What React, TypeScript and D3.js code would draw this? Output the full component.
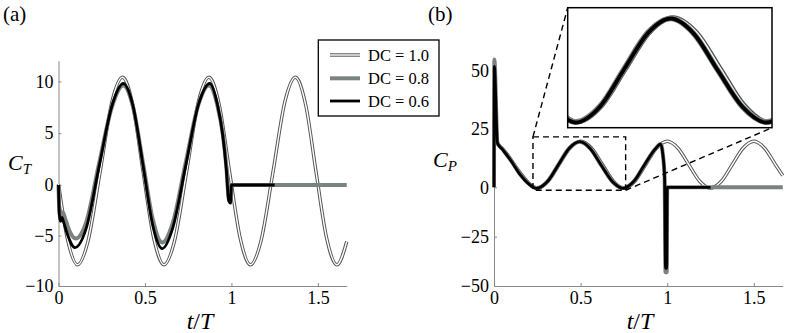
import React, { useEffect, useRef } from 'react'
import * as d3 from 'd3'

// panel (a): thrust coefficient C_T against t/T
const ctT10 = [0, 0.05, 0.11, 0.17, 0.24, 0.31, 0.37, 0.43, 0.49, 0.55, 0.61, 0.67, 0.74, 0.81, 0.87, 0.93, 0.99, 1.05, 1.11, 1.17, 1.24, 1.31, 1.37, 1.43, 1.49, 1.55, 1.61, 1.667]
const ctV10 = [0.1, -5.2, -7.9, -5.6, 1.2, 8.1, 10.4, 7.7, 1.2, -5.2, -7.9, -5.6, 1.2, 8.1, 10.4, 7.7, 1.2, -5.2, -7.9, -5.6, 1.2, 8.1, 10.4, 7.7, 1.2, -5.2, -7.9, -5.6]
const ctT08 = [0, 0.006, 0.015, 0.025, 0.04, 0.06, 0.1, 0.16, 0.235, 0.31, 0.375, 0.43, 0.49, 0.545, 0.6, 0.66, 0.735, 0.81, 0.87, 0.92, 0.95, 0.97, 0.985, 0.995, 1.0, 1.667]
const ctV08 = [0, -2.8, -3.0, -2.7, -3.4, -4.4, -5.3, -3.7, 2.1, 7.6, 9.6, 7.6, 2.0, -3.4, -5.7, -3.8, 2.1, 7.8, 9.6, 7.6, 4.9, 1.9, -1.4, -1.6, 0, 0]
const ctT06 = [0, 0.005, 0.012, 0.02, 0.03, 0.05, 0.095, 0.16, 0.235, 0.31, 0.375, 0.43, 0.49, 0.545, 0.6, 0.66, 0.735, 0.81, 0.875, 0.92, 0.95, 0.97, 0.985, 0.995, 1.0, 1.25]
const ctV06 = [0, -3.0, -3.6, -3.2, -3.7, -4.8, -6.2, -4.3, 1.8, 7.7, 9.8, 7.7, 1.8, -4.0, -6.3, -4.3, 1.8, 7.8, 9.8, 7.7, 4.8, 1.6, -1.6, -1.8, 0, 0]

// panel (b): power coefficient C_P against t/T
const cpT10 = [0, 0.03, 0.07, 0.12, 0.17, 0.21, 0.25, 0.3125, 0.375, 0.4375, 0.5, 0.5625, 0.625, 0.6875, 0.75, 0.8125, 0.875, 0.9375, 1.0, 1.0625, 1.125, 1.1875, 1.25, 1.3125, 1.375, 1.4375, 1.5, 1.5625, 1.625, 1.667]
const cpV10 = [19.5, 18.0, 14.8, 9.5, 4.5, 1.2, -0.4, 2.6, 9.7, 16.8, 19.8, 16.9, 9.9, 2.8, -0.4, 2.6, 9.7, 16.8, 19.8, 16.8, 9.7, 2.6, -0.4, 2.6, 9.7, 16.8, 19.8, 16.8, 9.7, 5.0]
const cpT08 = [0, 0.002, 0.02, 0.05, 0.1, 0.15, 0.2, 0.245, 0.31, 0.372, 0.435, 0.495, 0.555, 0.618, 0.683, 0.745, 0.81, 0.87, 0.93, 0.962, 0.975, 0.985, 0.99, 0.997, 1.0, 1.667]
const cpV08 = [0, 55, 19.2, 16.3, 11.3, 5.7, 1.6, -0.4, 2.7, 9.8, 16.9, 19.6, 16.7, 9.6, 2.5, -0.4, 2.8, 9.8, 16.4, 18.6, 14, 4, -43, -43, 0, 0]
const cpT06 = [0, 0.002, 0.02, 0.05, 0.1, 0.15, 0.2, 0.245, 0.31, 0.372, 0.435, 0.495, 0.555, 0.618, 0.683, 0.745, 0.81, 0.87, 0.93, 0.962, 0.975, 0.985, 0.99, 0.997, 1.0, 1.25]
const cpV06 = [0, 52, 19.0, 16.2, 11.2, 5.6, 1.5, -0.5, 2.6, 9.7, 16.8, 19.6, 16.7, 9.6, 2.5, -0.5, 2.8, 9.8, 16.4, 18.6, 14, 4, -41, -41, 0, 0]

const xTicks = [0, 0.5, 1, 1.5]
const ctTicks = [-10, -5, 0, 5, 10]
const cpTicks = [-50, -25, 0, 25, 50]
const legendLabels = ['DC = 1.0', 'DC = 0.8', 'DC = 0.6']
const zoomT = [0.225, 0.76]
const zoomV = [-1.5, 21.7]

const serif = 'Liberation Serif, DejaVu Serif, serif'
const grey = '#7b8282'
const edge = '#555'
const axisGrey = '#8a8a8a'

const pts = (t: number[], v: number[]) => t.map((d, i) => ({ t: d, v: v[i] }))

const drawSeries = (g: any, x: any, y: any, sets: any, k = 1) => {
  const line = d3.line<any>().x(d => x(d.t)).y(d => y(d.v)).curve(d3.curveMonotoneX)
  const add = (data: any, color: string, w: number) =>
    g.append('path').datum(data).attr('d', line).attr('fill', 'none')
      .attr('stroke', color).attr('stroke-width', w).attr('stroke-linejoin', 'round')
  add(sets[0], edge, 3.4 * k)
  add(sets[0], '#fff', 1.4 * k)
  add(sets[1], grey, 4 * k)
  add(sets[2], '#000', 2.8 * k)
}

const drawAxes = (svg: any, x: any, y: any, yTicks: number[]) => {
  const gx = svg.append('g')
    .attr('transform', `translate(0,${y.range()[0]})`)
    .call(d3.axisBottom(x).tickValues(xTicks).tickSizeInner(-3).tickSizeOuter(0).tickPadding(5).tickFormat(d => String(d)))
  const gy = svg.append('g')
    .attr('transform', `translate(${x.range()[0]},0)`)
    .call(d3.axisLeft(y).tickValues(yTicks).tickSizeInner(-3).tickSizeOuter(0).tickPadding(5).tickFormat(d3.format('')))
  for (const g of [gx, gy]) {
    g.attr('font-family', null).attr('font-size', null)
    g.selectAll('path, line').attr('stroke', axisGrey)
    g.selectAll('text').style('font-family', serif).style('font-size', '18px').attr('fill', '#000')
  }
}

const axisTitle = (svg: any, cx: number, cy: number, sub: string, side: boolean) => {
  const t = svg.append('text').style('font-family', serif).attr('fill', '#000')
  if (side) {
    t.attr('x', cx).attr('y', cy).style('font-size', '22px')
    t.append('tspan').style('font-style', 'italic').text('C')
    t.append('tspan').style('font-style', 'italic').style('font-size', '15px').attr('dy', 4).text(sub)
  } else {
    t.attr('x', cx).attr('y', cy).attr('text-anchor', 'middle').style('font-size', '24px')
    t.append('tspan').style('font-style', 'italic').text('t')
    t.append('tspan').text('/')
    t.append('tspan').style('font-style', 'italic').text('T')
  }
}

const draw = (svg: any) => {
  // panel (a)
  const xa = d3.scaleLinear().domain([0, 5 / 3]).range([58.5, 346.7])
  const ya = d3.scaleLinear().domain([-10, 0, 12]).range([286, 185, 60.7])
  drawAxes(svg, xa, ya, ctTicks)
  drawSeries(svg.append('g'), xa, ya, [pts(ctT10, ctV10), pts(ctT08, ctV08), pts(ctT06, ctV06)])
  axisTitle(svg, 8, 170, 'T', true)
  axisTitle(svg, 200, 329, '', false)
  svg.append('text').attr('x', 3).attr('y', 21).style('font-family', serif).style('font-size', '21px').text('(a)')

  // legend
  const lg = svg.append('g')
  lg.append('rect').attr('x', 318.3).attr('y', 40).attr('width', 120.7).attr('height', 76)
    .attr('fill', '#fff').attr('stroke', '#000').attr('stroke-width', 1.3)
  const rowY = [55, 78.3, 101]
  const sample = (i: number, color: string, w: number) =>
    lg.append('line').attr('x1', 330).attr('x2', 360).attr('y1', rowY[i]).attr('y2', rowY[i])
      .attr('stroke', color).attr('stroke-width', w)
  sample(0, edge, 3.4); sample(0, '#fff', 1.4); sample(1, grey, 4); sample(2, '#000', 2.8)
  legendLabels.forEach((s, i) => {
    lg.append('text').attr('x', 368).attr('y', rowY[i]).attr('dy', '0.35em')
      .style('font-family', serif).style('font-size', '16.5px').text(s)
  })

  // panel (b)
  const xb = d3.scaleLinear().domain([0, 5 / 3]).range([494, 782.7])
  const yb = d3.scaleLinear().domain([-50, 0, 55]).range([286, 187.3, 59.4])
  drawAxes(svg, xb, yb, cpTicks)
  const cpSets = [pts(cpT10, cpV10), pts(cpT08, cpV08), pts(cpT06, cpV06)]
  drawSeries(svg.append('g'), xb, yb, cpSets)
  axisTitle(svg, 433, 167, 'P', true)
  axisTitle(svg, 640, 329, '', false)
  svg.append('text').attr('x', 428).attr('y', 21).style('font-family', serif).style('font-size', '21px').text('(b)')

  // zoom box and inset
  const xi = d3.scaleLinear().domain(zoomT).range([567.7, 772])
  const yi = d3.scaleLinear().domain(zoomV).range([127.7, 7.7])
  const dash = (g: any) => g.attr('stroke', '#000').attr('stroke-width', 1.4).attr('stroke-dasharray', '6,4').attr('fill', 'none')
  svg.append('rect').attr('x', xb(zoomT[0])).attr('y', yb(zoomV[1]))
    .attr('width', xb(zoomT[1]) - xb(zoomT[0])).attr('height', yb(zoomV[0]) - yb(zoomV[1])).call(dash)
  svg.append('line').attr('x1', xb(zoomT[0])).attr('y1', yb(zoomV[1])).attr('x2', xi.range()[0]).attr('y2', yi.range()[1]).call(dash)
  svg.append('line').attr('x1', xb(zoomT[1])).attr('y1', yb(zoomV[0])).attr('x2', xi.range()[1]).attr('y2', yi.range()[0]).call(dash)

  svg.append('clipPath').attr('id', 'inset-clip').append('rect')
    .attr('x', 567.7).attr('y', 7.7).attr('width', 772 - 567.7).attr('height', 120)
  svg.append('rect').attr('x', 567.7).attr('y', 7.7).attr('width', 772 - 567.7).attr('height', 120).attr('fill', '#fff')
  drawSeries(svg.append('g').attr('clip-path', 'url(#inset-clip)'), xi, yi, cpSets, 1.4)
  svg.append('rect').attr('x', 567.7).attr('y', 7.7).attr('width', 772 - 567.7).attr('height', 120)
    .attr('fill', 'none').attr('stroke', '#000').attr('stroke-width', 1.5)
}

const App = () => {
  const ref = useRef<SVGSVGElement>(null)
  useEffect(() => {
    const svg = d3.select(ref.current)
    svg.selectAll('*').remove()
    draw(svg)
  }, [])
  return (
    <div>
      <style>{'body{margin:0}'}</style>
      <svg ref={ref} width={789} height={333} style={{ display: 'block', background: '#fff' }} />
    </div>
  )
}

export default App
